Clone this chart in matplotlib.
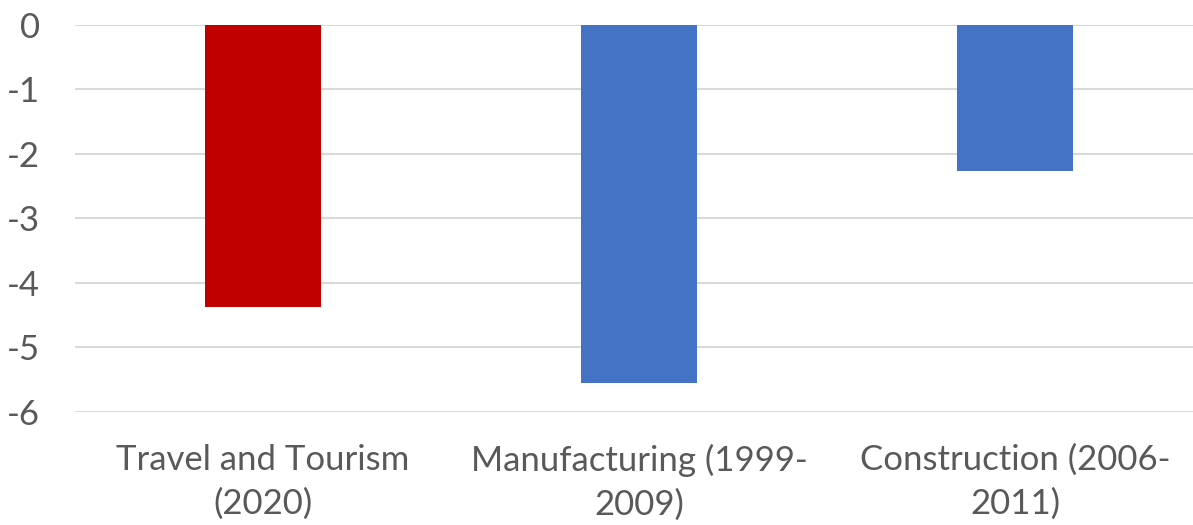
import matplotlib.pyplot as plt

categories = ["Travel and Tourism\n(2020)", "Manufacturing (1999-\n2009)", "Construction (2006-\n2011)"]
values = [-4.37, -5.55, -2.27]
colors = ["#C00000", "#4472C4", "#4472C4"]
yticks = [0, -1, -2, -3, -4, -5, -6]

plt.rcParams["font.family"] = ["Lato", "DejaVu Sans"]

W, H = 1193, 525
fig = plt.figure(figsize=(W / 100, H / 100), dpi=100)
ax = fig.add_axes([75 / W, (H - 412) / H, 1128 / W, (412 - 24.5) / H])

ax.bar(range(len(values)), values, width=0.31, color=colors, zorder=2)

ax.set_xlim(-0.5, 2.5)
ax.set_ylim(-6, 0)
ax.set_yticks(yticks)
ax.set_yticklabels([str(v) for v in yticks])
ax.set_xticks(range(len(categories)))
ax.set_xticklabels(categories, linespacing=1.45)

ax.yaxis.grid(True, color="#D9D9D9", linewidth=1.5, zorder=0)
ax.set_axisbelow(True)
for s in ax.spines.values():
    s.set_visible(False)
ax.tick_params(axis="both", length=0, colors="#595959", labelsize=25)
ax.tick_params(axis="y", pad=25)
ax.tick_params(axis="x", pad=23)

fig.savefig("out.png", dpi=100)
